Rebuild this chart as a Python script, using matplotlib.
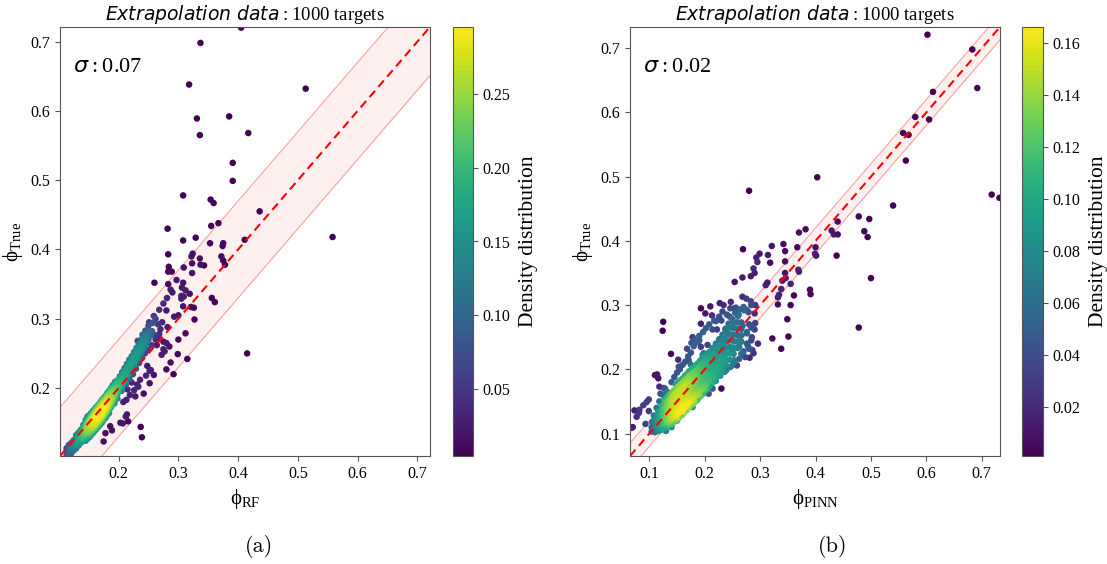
import numpy as np
import matplotlib
matplotlib.use("Agg")
import matplotlib.pyplot as plt

plt.rcParams['font.family'] = ['Liberation Serif', 'DejaVu Serif']
plt.rcParams['mathtext.fontset'] = 'custom'
plt.rcParams['mathtext.rm'] = 'Liberation Serif'
plt.rcParams['mathtext.it'] = 'DejaVu Sans:italic'
plt.rcParams['mathtext.bf'] = 'Liberation Serif:bold'

# ---------------- data: panel (a) RF ----------------
# dense core, read row by row (x of row, y of the marks in that row)
rf_core_row_x = [0.113, 0.117, 0.121, 0.125, 0.129, 0.133, 0.137, 0.141, 0.145, 0.148, 0.151, 0.154, 0.157,
                 0.160, 0.163, 0.166, 0.169, 0.172, 0.175, 0.178, 0.181, 0.184, 0.187, 0.190, 0.194, 0.198,
                 0.202, 0.206, 0.210, 0.214, 0.218, 0.222, 0.226, 0.230, 0.234, 0.238, 0.242, 0.246, 0.250,
                 0.254]
rf_core_row_y = [
    [0.103, 0.108, 0.113],
    [0.104, 0.109, 0.114, 0.118],
    [0.106, 0.111, 0.116, 0.121],
    [0.110, 0.115, 0.119, 0.125],
    [0.113, 0.118, 0.123, 0.128, 0.132],
    [0.117, 0.122, 0.127, 0.131, 0.136],
    [0.121, 0.126, 0.131, 0.135, 0.140],
    [0.124, 0.129, 0.134, 0.138, 0.143, 0.147],
    [0.124, 0.128, 0.133, 0.137, 0.141, 0.146, 0.150, 0.154],
    [0.127, 0.131, 0.135, 0.139, 0.143, 0.147, 0.151, 0.155, 0.159],
    [0.129, 0.133, 0.137, 0.141, 0.146, 0.149, 0.153, 0.157, 0.161],
    [0.132, 0.136, 0.140, 0.144, 0.148, 0.152, 0.156, 0.160, 0.164],
    [0.135, 0.139, 0.143, 0.147, 0.151, 0.155, 0.159, 0.163, 0.167],
    [0.138, 0.142, 0.146, 0.150, 0.154, 0.158, 0.162, 0.166, 0.170],
    [0.141, 0.145, 0.149, 0.153, 0.157, 0.161, 0.165, 0.169, 0.173],
    [0.144, 0.148, 0.152, 0.156, 0.160, 0.164, 0.168, 0.172, 0.176],
    [0.147, 0.151, 0.155, 0.159, 0.163, 0.167, 0.171, 0.175, 0.179],
    [0.150, 0.154, 0.158, 0.162, 0.166, 0.170, 0.174, 0.178, 0.182],
    [0.154, 0.158, 0.162, 0.166, 0.170, 0.174, 0.178, 0.182, 0.186],
    [0.157, 0.161, 0.165, 0.169, 0.173, 0.177, 0.181, 0.185, 0.189],
    [0.161, 0.165, 0.169, 0.173, 0.177, 0.181, 0.185, 0.189, 0.193],
    [0.164, 0.168, 0.172, 0.176, 0.180, 0.184, 0.188, 0.192, 0.196],
    [0.172, 0.176, 0.180, 0.184, 0.188, 0.192, 0.196, 0.200],
    [0.176, 0.180, 0.184, 0.188, 0.192, 0.196, 0.200, 0.204],
    [0.184, 0.189, 0.194, 0.199, 0.204, 0.209],
    [0.191, 0.196, 0.201, 0.206, 0.211],
    [0.197, 0.202, 0.207, 0.212, 0.217],
    [0.203, 0.208, 0.213, 0.218, 0.223],
    [0.209, 0.214, 0.219, 0.224, 0.229],
    [0.215, 0.220, 0.225, 0.230, 0.235],
    [0.221, 0.226, 0.231, 0.236, 0.241],
    [0.227, 0.232, 0.237, 0.242, 0.246],
    [0.233, 0.238, 0.243, 0.248, 0.252],
    [0.239, 0.244, 0.249, 0.254, 0.258],
    [0.245, 0.250, 0.255, 0.260, 0.264],
    [0.251, 0.256, 0.261, 0.266, 0.270],
    [0.257, 0.262, 0.267, 0.272, 0.276],
    [0.264, 0.269, 0.274, 0.279],
    [0.270, 0.275, 0.280],
    [0.276, 0.282],
]
# individually read scattered marks
rf_x = [
    0.405, 0.337, 0.318, 0.513, 0.331, 0.385, 0.336, 0.417, 0.391, 0.391, 0.308, 0.354, 0.359, 0.436, 0.355,
    0.367, 0.282, 0.329, 0.308, 0.411, 0.375, 0.374, 0.353, 0.558, 0.283, 0.324, 0.322, 0.372, 0.336, 0.284,
    0.309, 0.323, 0.375, 0.378, 0.337, 0.343, 0.283, 0.289, 0.323, 0.260, 0.283, 0.308, 0.297, 0.287, 0.290,
    0.306, 0.312, 0.305, 0.309, 0.305, 0.319, 0.356, 0.361, 0.281, 0.275, 0.308, 0.321, 0.326, 0.268, 0.280,
    0.293, 0.259, 0.300, 0.327, 0.251, 0.273, 0.282, 0.312, 0.275, 0.280, 0.300, 0.275, 0.299, 0.415, 0.315,
    0.287, 0.280, 0.292, 0.252, 0.259, 0.252, 0.242, 0.228, 0.233, 0.208, 0.213, 0.212, 0.216, 0.214, 0.237,
    0.239, 0.175, 0.178, 0.186, 0.189, 0.203, 0.207, 0.172, 0.262, 0.266, 0.270, 0.256, 0.261, 0.268, 0.248,
    0.254, 0.246, 0.236, 0.231, 0.226, 0.219, 0.198, 0.193, 0.264, 0.272, 0.277, 0.285,
    0.205, 0.212, 0.218, 0.224, 0.229, 0.234, 0.239, 0.244, 0.215, 0.222, 0.196, 0.250, 0.257, 0.245, 0.240,
    0.232, 0.249, 0.255, 0.262, 0.268,
]
rf_y = [
    0.720, 0.698, 0.638, 0.632, 0.589, 0.592, 0.565, 0.568, 0.525, 0.499, 0.478, 0.472, 0.467, 0.455, 0.434,
    0.438, 0.430, 0.417, 0.413, 0.414, 0.409, 0.405, 0.409, 0.418, 0.393, 0.394, 0.390, 0.390, 0.387, 0.375,
    0.374, 0.380, 0.384, 0.378, 0.378, 0.377, 0.368, 0.368, 0.366, 0.352, 0.350, 0.352, 0.356, 0.342, 0.338,
    0.345, 0.341, 0.333, 0.332, 0.329, 0.336, 0.330, 0.324, 0.330, 0.322, 0.318, 0.317, 0.316, 0.313, 0.312,
    0.303, 0.304, 0.305, 0.299, 0.295, 0.295, 0.288, 0.279, 0.267, 0.265, 0.270, 0.256, 0.249, 0.250, 0.242,
    0.237, 0.227, 0.220, 0.225, 0.219, 0.207, 0.192, 0.188, 0.202, 0.180, 0.183, 0.159, 0.152, 0.162, 0.144,
    0.129, 0.123, 0.135, 0.145, 0.139, 0.150, 0.149, 0.183, 0.300, 0.292, 0.285, 0.282, 0.276, 0.271, 0.232,
    0.226, 0.218, 0.212, 0.205, 0.197, 0.190, 0.185, 0.178, 0.262, 0.248, 0.253, 0.260,
    0.196, 0.205, 0.213, 0.220, 0.228, 0.236, 0.244, 0.250, 0.198, 0.208, 0.185, 0.290, 0.294, 0.283, 0.277,
    0.268, 0.255, 0.262, 0.270, 0.278,
]

# ---------------- data: panel (b) PINN ----------------
pinn_core_row_x = [0.104, 0.110, 0.116, 0.122, 0.127, 0.132, 0.136, 0.140, 0.144, 0.148, 0.152, 0.156, 0.160,
                   0.164, 0.168, 0.172, 0.177, 0.182, 0.187, 0.192, 0.197, 0.202, 0.208, 0.214, 0.220, 0.226,
                   0.232, 0.238, 0.245, 0.252, 0.259, 0.266]
pinn_core_row_y = [
    [0.103, 0.110],
    [0.102, 0.109, 0.117, 0.124],
    [0.104, 0.111, 0.119, 0.127, 0.134],
    [0.106, 0.113, 0.121, 0.129, 0.137, 0.143],
    [0.108, 0.116, 0.124, 0.131, 0.139, 0.147, 0.153],
    [0.111, 0.119, 0.127, 0.134, 0.142, 0.150, 0.157],
    [0.115, 0.122, 0.130, 0.137, 0.145, 0.153, 0.160],
    [0.114, 0.121, 0.128, 0.135, 0.142, 0.149, 0.156, 0.163],
    [0.118, 0.125, 0.132, 0.139, 0.146, 0.153, 0.160, 0.167],
    [0.121, 0.128, 0.135, 0.142, 0.149, 0.156, 0.163, 0.170, 0.176],
    [0.124, 0.131, 0.138, 0.145, 0.152, 0.159, 0.166, 0.173, 0.180],
    [0.127, 0.134, 0.141, 0.148, 0.155, 0.162, 0.169, 0.176, 0.183],
    [0.130, 0.137, 0.144, 0.151, 0.158, 0.165, 0.172, 0.179, 0.186],
    [0.134, 0.141, 0.148, 0.155, 0.162, 0.169, 0.176, 0.183, 0.190],
    [0.137, 0.144, 0.151, 0.158, 0.165, 0.172, 0.179, 0.186, 0.193],
    [0.141, 0.148, 0.155, 0.162, 0.169, 0.176, 0.183, 0.190, 0.197],
    [0.145, 0.153, 0.161, 0.169, 0.177, 0.185, 0.193, 0.201],
    [0.149, 0.157, 0.165, 0.173, 0.181, 0.189, 0.197, 0.205],
    [0.153, 0.161, 0.169, 0.177, 0.185, 0.193, 0.201, 0.209],
    [0.158, 0.166, 0.174, 0.182, 0.190, 0.198, 0.206, 0.214],
    [0.162, 0.170, 0.178, 0.186, 0.194, 0.202, 0.210, 0.218],
    [0.167, 0.175, 0.183, 0.191, 0.199, 0.207, 0.215, 0.223],
    [0.173, 0.182, 0.191, 0.200, 0.209, 0.218, 0.227],
    [0.179, 0.188, 0.197, 0.206, 0.215, 0.224, 0.233],
    [0.186, 0.195, 0.204, 0.213, 0.222, 0.231, 0.240],
    [0.193, 0.202, 0.211, 0.220, 0.229, 0.238, 0.247],
    [0.200, 0.209, 0.218, 0.227, 0.236, 0.245, 0.254],
    [0.207, 0.216, 0.225, 0.234, 0.243, 0.252, 0.261],
    [0.215, 0.225, 0.235, 0.245, 0.255, 0.265],
    [0.224, 0.234, 0.244, 0.254, 0.264, 0.272],
    [0.233, 0.243, 0.253, 0.263, 0.273],
    [0.243, 0.253, 0.263, 0.273],
]
pinn_x = [
    0.602, 0.683, 0.692, 0.612, 0.580, 0.605, 0.558, 0.568, 0.563, 0.403, 0.280, 0.718, 0.732, 0.540, 0.478,
    0.497, 0.440, 0.488, 0.494, 0.429, 0.433, 0.440, 0.370, 0.382, 0.400, 0.399, 0.401, 0.438, 0.367, 0.269,
    0.342, 0.321, 0.299, 0.293, 0.314, 0.345, 0.295, 0.318, 0.345, 0.500, 0.254, 0.268, 0.283, 0.288, 0.290,
    0.310, 0.313, 0.340, 0.338, 0.345, 0.346, 0.369, 0.370, 0.355, 0.390, 0.391, 0.361, 0.334, 0.332, 0.355,
    0.332, 0.349, 0.351, 0.322, 0.338, 0.478, 0.230, 0.139, 0.125, 0.124, 0.110, 0.114, 0.116, 0.118, 0.099,
    0.095, 0.089, 0.082, 0.077, 0.073, 0.081, 0.070, 0.068, 0.093, 0.099, 0.126, 0.153, 0.171, 0.175, 0.193,
    0.190, 0.193, 0.193, 0.210, 0.227, 0.234, 0.247, 0.253, 0.271, 0.279, 0.290, 0.268, 0.275, 0.283, 0.291,
    0.291, 0.285, 0.280, 0.281, 0.286, 0.201, 0.213, 0.217, 0.181, 0.176, 0.188, 0.230, 0.237, 0.243, 0.263,
    0.276, 0.276, 0.266, 0.273, 0.253, 0.258, 0.247, 0.239, 0.214, 0.207, 0.186, 0.178, 0.160, 0.150, 0.133,
    0.105, 0.128, 0.198, 0.205, 0.222, 0.245, 0.256, 0.261, 0.284, 0.262, 0.250, 0.232, 0.219, 0.196,
    0.140, 0.145, 0.150, 0.155, 0.160, 0.152, 0.165, 0.170, 0.175, 0.168, 0.180, 0.185, 0.178, 0.190, 0.197,
    0.202, 0.208, 0.214, 0.220, 0.226, 0.232, 0.240, 0.246, 0.255, 0.262, 0.270, 0.276, 0.284, 0.260, 0.250,
    0.212, 0.220, 0.228, 0.236, 0.244, 0.252, 0.262, 0.270, 0.278, 0.284, 0.276, 0.268, 0.280, 0.290, 0.288,
    0.296, 0.200, 0.190, 0.180, 0.170, 0.160, 0.150, 0.140, 0.130, 0.108, 0.113, 0.118, 0.125, 0.120, 0.128,
    0.132,
]
pinn_y = [
    0.721, 0.698, 0.638, 0.632, 0.593, 0.589, 0.568, 0.565, 0.525, 0.499, 0.478, 0.472, 0.467, 0.455, 0.438,
    0.434, 0.430, 0.415, 0.406, 0.416, 0.410, 0.410, 0.413, 0.418, 0.390, 0.380, 0.377, 0.377, 0.390, 0.387,
    0.395, 0.392, 0.380, 0.374, 0.378, 0.384, 0.367, 0.366, 0.368, 0.342, 0.336, 0.343, 0.345, 0.357, 0.350,
    0.331, 0.335, 0.338, 0.325, 0.350, 0.342, 0.355, 0.352, 0.333, 0.324, 0.317, 0.315, 0.316, 0.312, 0.300,
    0.301, 0.278, 0.251, 0.248, 0.232, 0.265, 0.170, 0.224, 0.274, 0.260, 0.191, 0.192, 0.186, 0.173, 0.153,
    0.149, 0.144, 0.137, 0.126, 0.136, 0.132, 0.110, 0.109, 0.115, 0.135, 0.171, 0.204, 0.214, 0.207, 0.235,
    0.245, 0.271, 0.295, 0.298, 0.303, 0.300, 0.305, 0.295, 0.292, 0.289, 0.287, 0.313, 0.310, 0.306, 0.300,
    0.272, 0.250, 0.232, 0.218, 0.230, 0.287, 0.284, 0.276, 0.246, 0.241, 0.243, 0.276, 0.263, 0.271, 0.245,
    0.256, 0.240, 0.224, 0.219, 0.214, 0.206, 0.204, 0.199, 0.170, 0.162, 0.152, 0.141, 0.135, 0.125, 0.118,
    0.118, 0.152, 0.225, 0.238, 0.262, 0.282, 0.296, 0.285, 0.265, 0.235, 0.228, 0.215, 0.200, 0.222,
    0.180, 0.188, 0.195, 0.200, 0.207, 0.215, 0.212, 0.220, 0.226, 0.232, 0.236, 0.242, 0.250, 0.252, 0.258,
    0.264, 0.270, 0.262, 0.275, 0.282, 0.290, 0.285, 0.295, 0.288, 0.293, 0.297, 0.292, 0.300, 0.283, 0.278,
    0.178, 0.182, 0.190, 0.196, 0.203, 0.210, 0.216, 0.228, 0.236, 0.245, 0.258, 0.268, 0.270, 0.262, 0.225,
    0.240, 0.170, 0.160, 0.150, 0.140, 0.130, 0.120, 0.110, 0.104, 0.128, 0.140, 0.150, 0.160, 0.162, 0.170,
    0.165,
]

sigma_a = 0.07
sigma_b = 0.02
lims_a = (0.102, 0.721)
lims_b = (0.065, 0.733)
dens_range_a = (0.005, 0.295)
dens_range_b = (0.001, 0.166)
ticks_cb_a = [0.05, 0.10, 0.15, 0.20, 0.25]
ticks_cb_b = [0.02, 0.04, 0.06, 0.08, 0.10, 0.12, 0.14, 0.16]
ticks_ax = [0.1, 0.2, 0.3, 0.4, 0.5, 0.6, 0.7]


def expand_rows(row_x, row_y):
    xs, ys = [], []
    for x0, yl in zip(row_x, row_y):
        for yv in yl:
            xs.append(x0)
            ys.append(yv)
    return xs, ys


def kde_density(x, y, bw_scale=0.5):
    pts = np.vstack([x, y])
    n = pts.shape[1]
    cov = np.cov(pts)
    factor = n ** (-1.0 / 6.0) * bw_scale
    inv = np.linalg.inv(cov * factor ** 2)
    diff = pts[:, :, None] - pts[:, None, :]
    q = np.einsum('ijk,il,ljk->jk', diff, inv, diff)
    return np.exp(-0.5 * q).sum(axis=1)


def panel(ax, cax, x, y, sigma, lims, drange, cticks, xlabel, sig_text):
    x = np.asarray(x); y = np.asarray(y)
    d = kde_density(x, y)
    d = drange[0] + (d - d.min()) / (d.max() - d.min()) * (drange[1] - drange[0])
    order = np.argsort(d)
    line = np.array(lims)
    ax.fill_between(line, line - sigma, line + sigma, color='#fff0f0', lw=0, zorder=0)
    ax.plot(line, line + sigma, color='#ff9f9f', lw=0.8, zorder=1)
    ax.plot(line, line - sigma, color='#ff9f9f', lw=0.8, zorder=1)
    sc = ax.scatter(x[order], y[order], c=d[order], cmap='viridis', s=22, lw=0,
                    vmin=drange[0], vmax=drange[1], zorder=2)
    ax.plot(line, line, color='red', ls=(0, (4, 2.5)), lw=1.5, zorder=3)
    ax.set_xlim(lims); ax.set_ylim(lims)
    ax.set_xticks([t for t in ticks_ax if lims[0] <= t <= lims[1]])
    ax.set_yticks([t for t in ticks_ax if lims[0] <= t <= lims[1]])
    ax.tick_params(labelsize=11.5, color='#555555', length=3.5)
    for s in ax.spines.values():
        s.set_color('#555555')
    ax.set_title(r'$Extrapolation\ data:$1000 targets', fontsize=13.5, pad=5)
    ax.set_xlabel(xlabel, fontsize=15, labelpad=4)
    ax.set_ylabel('\u03d5$_{\\mathrm{True}}$', fontsize=15, labelpad=4)
    ax.text(0.035, 0.905, sig_text, transform=ax.transAxes, fontsize=16, va='center')
    cb = plt.colorbar(sc, cax=cax)
    cb.set_ticks(cticks)
    cb.ax.tick_params(labelsize=11.5, color='#555555', length=3.5)
    cb.outline.set_edgecolor('#555555')
    cb.set_label('Density distribution', fontsize=15.5, labelpad=6)


fig = plt.figure(figsize=(11.07, 5.64), dpi=100)
W, H = 1107, 564


def rect(x0, x1, y0, y1):
    return [x0 / W, 1 - y1 / H, (x1 - x0) / W, (y1 - y0) / H]


ax1 = fig.add_axes(rect(60, 430, 27, 456))
cax1 = fig.add_axes(rect(453, 473, 27, 456))
ax2 = fig.add_axes(rect(630, 1000, 27, 456))
cax2 = fig.add_axes(rect(1022, 1043, 27, 456))

cxa, cya = expand_rows(rf_core_row_x, rf_core_row_y)
cxb, cyb = expand_rows(pinn_core_row_x, pinn_core_row_y)

panel(ax1, cax1, cxa + rf_x, cya + rf_y, sigma_a, lims_a, dens_range_a, ticks_cb_a,
      '\u03d5$_{\\mathrm{RF}}$', r'$\sigma:$0.07')
panel(ax2, cax2, cxb + pinn_x, cyb + pinn_y, sigma_b, lims_b, dens_range_b, ticks_cb_b,
      '\u03d5$_{\\mathrm{PINN}}$', r'$\sigma:$0.02')

fig.text(259 / W, 1 - 546 / H, '(a)', fontsize=16, family=['cmr10', 'DejaVu Serif'], ha='center', va='center')
fig.text(833 / W, 1 - 546 / H, '(b)', fontsize=16, family=['cmr10', 'DejaVu Serif'], ha='center', va='center')

fig.savefig('out.png', dpi=100)
